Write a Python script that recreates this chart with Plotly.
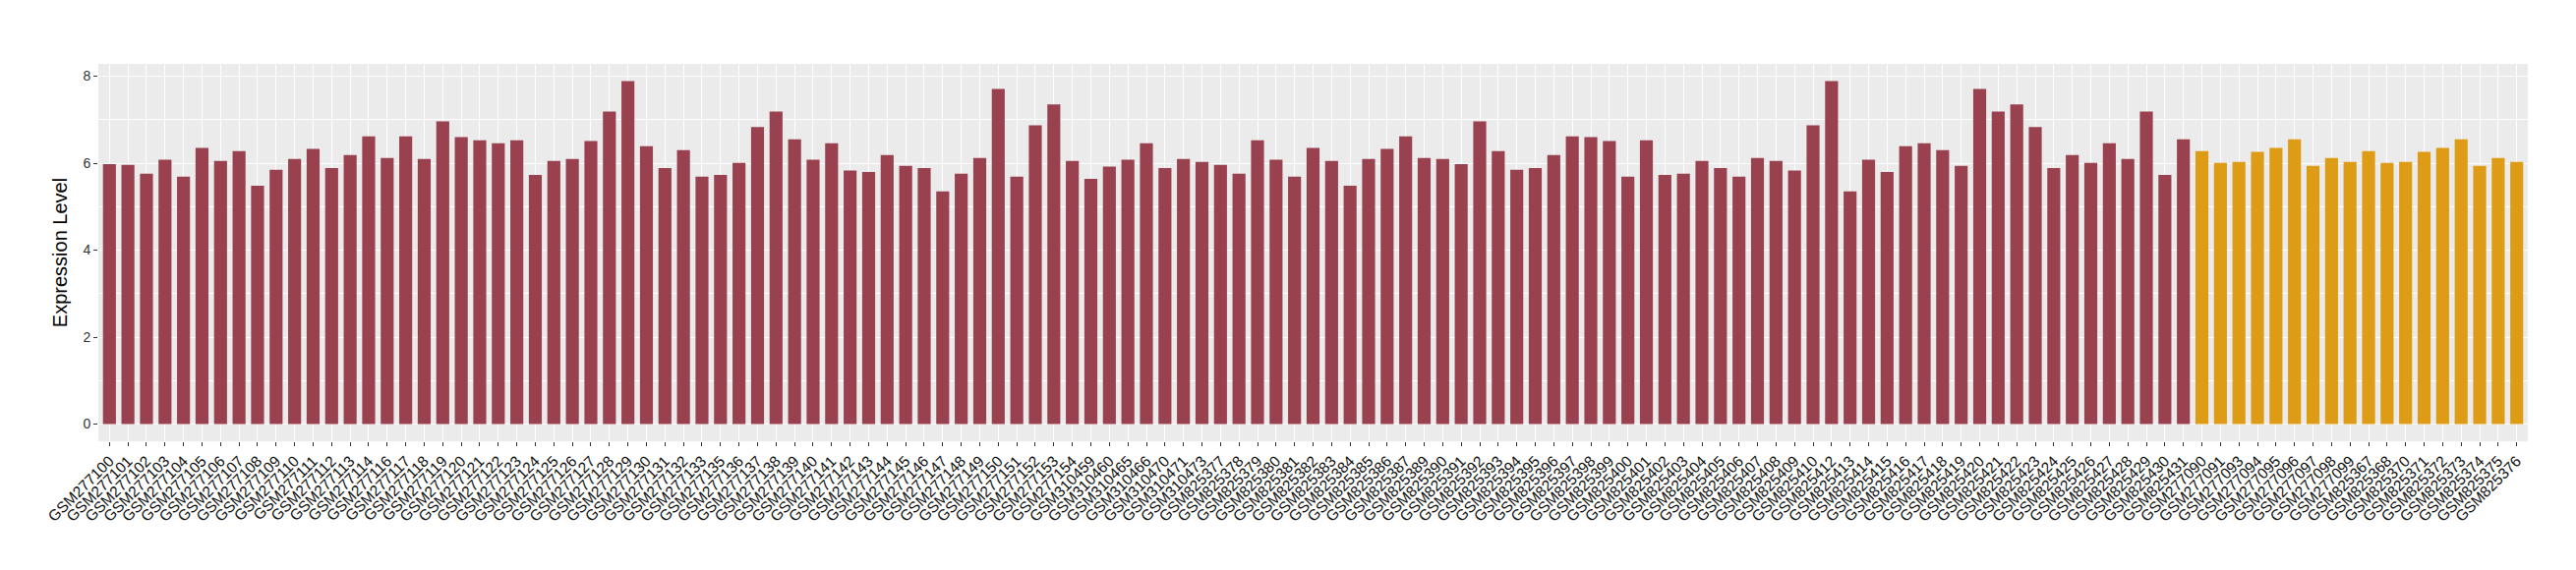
import plotly.graph_objects as go

# sample ids, left to right
samples_a = (
    [f"GSM277{n}" for n in list(range(100, 115)) + list(range(116, 134)) + list(range(135, 155))]
    + ["GSM310459", "GSM310460", "GSM310465", "GSM310466", "GSM310470", "GSM310471", "GSM310473"]
    + [f"GSM825{n}" for n in list(range(377, 388)) + list(range(389, 411)) + list(range(412, 432))]
)
samples_b = [
    "GSM277090", "GSM277091", "GSM277093", "GSM277094", "GSM277095", "GSM277096",
    "GSM277097", "GSM277098", "GSM277099", "GSM825367", "GSM825368", "GSM825370",
    "GSM825371", "GSM825372", "GSM825373", "GSM825374", "GSM825375", "GSM825376",
]

values_a = [
    5.98, 5.96, 5.76, 6.08, 5.69, 6.35, 6.05, 6.28, 5.48, 5.85,
    6.10, 6.33, 5.89, 6.19, 6.62, 6.12, 6.62, 6.10, 6.96, 6.60,
    6.53, 6.46, 6.53, 5.73, 6.05, 6.10, 6.51, 7.19, 7.89, 6.39,
    5.89, 6.30, 5.69, 5.73, 6.01, 6.83, 7.19, 6.55, 6.08, 6.46,
    5.83, 5.80, 6.19, 5.94, 5.89, 5.35, 5.76, 6.12, 7.71, 5.69,
    6.87, 7.35, 6.05, 5.64, 5.92, 6.08, 6.46, 5.89, 6.10, 6.03,
    5.96, 5.76, 6.53, 6.08, 5.69, 6.35, 6.05, 5.48, 6.10, 6.33,
    6.62, 6.12, 6.10, 5.98, 6.96, 6.28, 5.85, 5.89, 6.19, 6.62,
    6.60, 6.51, 5.69, 6.53, 5.73, 5.76, 6.05, 5.89, 5.69, 6.12,
    6.05, 5.83, 6.87, 7.89, 5.35, 6.08, 5.80, 6.39, 6.46, 6.30,
    5.94, 7.71, 7.19, 7.35, 6.83, 5.89, 6.19, 6.01, 6.46, 6.10,
    7.19, 5.73, 6.55,
]
values_b = [
    6.28, 6.01, 6.03, 6.26, 6.35, 6.55, 5.94, 6.12, 6.03,
    6.28, 6.01, 6.03, 6.26, 6.35, 6.55, 5.94, 6.12, 6.03,
]

COLOR_A = "#9A4150"
COLOR_B = "#DE9B15"

samples = samples_a + samples_b
values = values_a + values_b
colors = [COLOR_A] * len(samples_a) + [COLOR_B] * len(samples_b)

fig = go.Figure()
fig.add_trace(
    go.Bar(
        x=samples,
        y=values,
        marker=dict(color=colors, line=dict(width=0)),
        showlegend=False,
    )
)

ymax = max(values)
pad = ymax * 0.05

fig.update_layout(
    width=2620,
    height=580,
    margin=dict(l=92, r=57, t=57, b=139, autoexpand=False),
    paper_bgcolor="white",
    plot_bgcolor="#EBEBEB",
    bargap=0.3,
    font=dict(family="Liberation Sans, Arial, sans-serif", color="#1a1a1a"),
    xaxis=dict(
        type="category",
        range=[-0.6, len(samples) - 0.4],
        tickmode="linear",
        tick0=0,
        dtick=1,
        tickangle=-45,
        tickfont=dict(size=15.5, color="#111111"),
        ticks="outside",
        ticklen=4,
        tickcolor="#333333",
        showgrid=True,
        gridcolor="white",
        gridwidth=1.2,
        zeroline=False,
        showline=False,
        automargin=False,
    ),
    yaxis=dict(
        title=dict(text="Expression Level", font=dict(size=20, color="black"), standoff=10),
        range=[-pad, ymax + pad],
        tickvals=[0, 2, 4, 6, 8],
        tickfont=dict(size=14, color="#333333"),
        ticks="outside",
        ticklen=4,
        tickcolor="#333333",
        showgrid=True,
        gridcolor="white",
        gridwidth=1.2,
        minor=dict(dtick=1, tick0=0, showgrid=True, gridcolor="white", gridwidth=0.6, ticks=""),
        zeroline=False,
        showline=False,
        automargin=False,
    ),
)

fig.write_html("out.html")
